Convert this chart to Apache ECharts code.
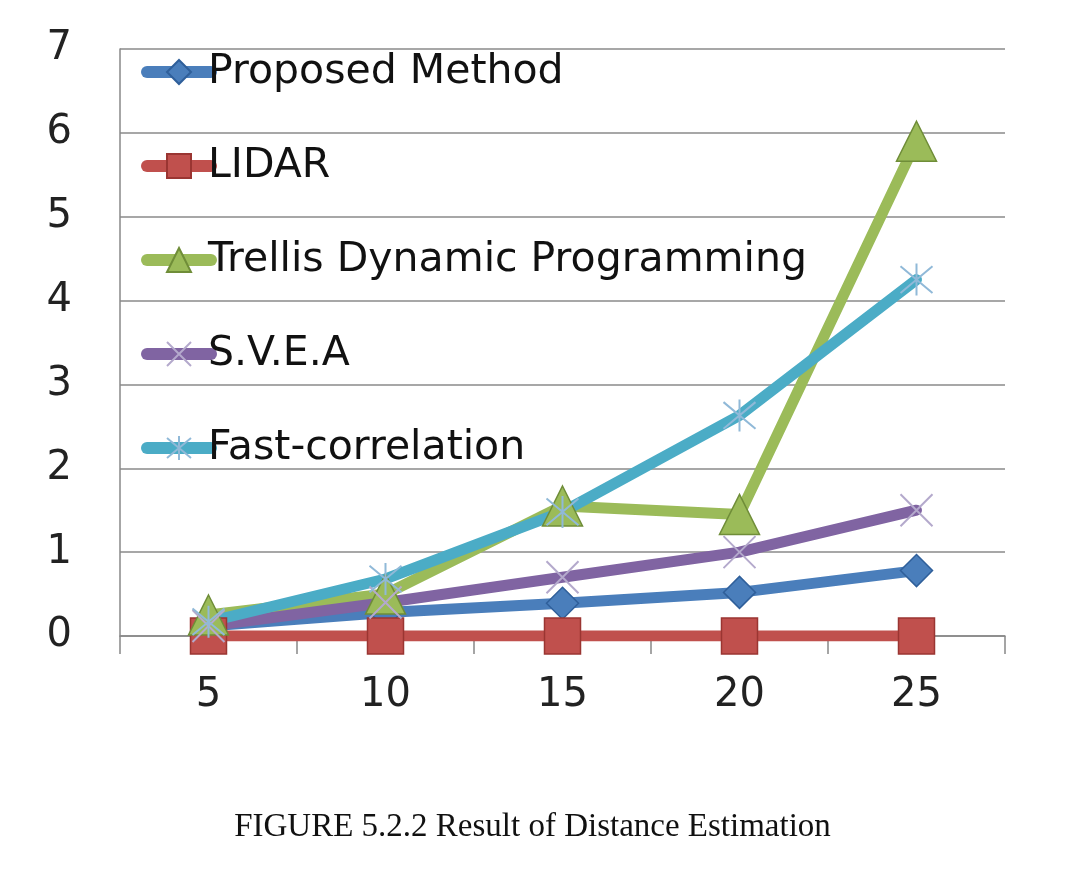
<!DOCTYPE html>
<html>
<head>
<meta charset="utf-8">
<script src="https://cdn.jsdelivr.net/npm/echarts@6/dist/echarts.min.js"></script>
<style>
  html, body { margin: 0; padding: 0; background: #fff; }
  #chart { width: 1065px; height: 884px; }
</style>
</head>
<body>
<div id="chart"></div>
<script>
/* values */
var categories = ['5', '10', '15', '20', '25'];
var proposed = [0.12, 0.28, 0.39, 0.52, 0.78];
var lidar = [0, 0, 0, 0, 0];
var trellis = [0.25, 0.5, 1.55, 1.45, 5.9];
var svea = [0.12, 0.4, 0.7, 1.0, 1.5];
var fastCorr = [0.17, 0.68, 1.48, 2.63, 4.25];
var seriesNames = ['Proposed Method', 'LIDAR', 'Trellis Dynamic Programming', 'S.V.E.A', 'Fast-correlation'];
var yTicks = [0, 1, 2, 3, 4, 5, 6, 7];

var xMark = 'path://M0,0L10,10M10,0L0,10';
var starMark = 'path://M0,0L10,10M10,0L0,10M5,-1L5,11';

function makeSeries(name, data, color, edge, symbol, size, thin) {
  return {
    name: name,
    type: 'line',
    data: data,
    symbol: symbol,
    symbolSize: size,
    showAllSymbol: true,
    lineStyle: { color: color, width: 11, cap: 'round', join: 'round' },
    itemStyle: thin ? {
      color: 'rgba(0,0,0,0)',
      borderColor: edge,
      borderWidth: 2
    } : {
      color: color,
      borderColor: edge,
      borderWidth: 1.5
    },
    emphasis: { disabled: true }
  };
}

var option = {
  animation: false,
  backgroundColor: '#fff',
  textStyle: { fontFamily: 'DejaVu Sans' },
  grid: { left: 120, top: 49, right: 60, bottom: 248 },
  title: {
    text: 'FIGURE 5.2.2 Result of Distance Estimation',
    left: 'center',
    top: 806,
    textStyle: { fontFamily: 'Liberation Serif', fontSize: 33, fontWeight: 'normal', color: '#111' }
  },
  legend: {
    orient: 'vertical',
    left: 136,
    top: 45,
    itemWidth: 64,
    itemHeight: 30,
    itemGap: 50,
    lineStyle: { width: 12 },
    textStyle: { fontSize: 41, lineHeight: 44, color: '#111', padding: [0, 0, 0, -8] },
    data: seriesNames
  },
  xAxis: {
    type: 'category',
    data: categories,
    boundaryGap: true,
    axisLine: { lineStyle: { color: '#888', width: 1.5 } },
    axisTick: { show: true, length: 18, lineStyle: { color: '#888', width: 1.5 } },
    axisLabel: { fontSize: 40, color: '#222', margin: 40 },
    splitLine: { show: false }
  },
  yAxis: {
    type: 'value',
    min: yTicks[0],
    max: yTicks[yTicks.length - 1],
    interval: 1,
    axisLine: { show: true, lineStyle: { color: '#888', width: 1.5 } },
    axisTick: { show: false },
    axisLabel: { fontSize: 40, color: '#222', margin: 48 },
    splitLine: { lineStyle: { color: '#8a8a8a', width: 1.5 } }
  },
  series: [
    makeSeries(seriesNames[0], proposed, '#4a7ebb', '#2f5f9a', 'diamond', 32),
    makeSeries(seriesNames[1], lidar, '#c0504d', '#9a3532', 'rect', 36),
    makeSeries(seriesNames[2], trellis, '#9bbb59', '#6f8d38', 'triangle', 40),
    makeSeries(seriesNames[3], svea, '#8064a2', '#b4a9cc', xMark, 32, true),
    makeSeries(seriesNames[4], fastCorr, '#4bacc6', '#90b9d8', starMark, 32, true)
  ]
};

var chart = echarts.init(document.getElementById('chart'));
chart.setOption(option);
</script>
</body>
</html>
